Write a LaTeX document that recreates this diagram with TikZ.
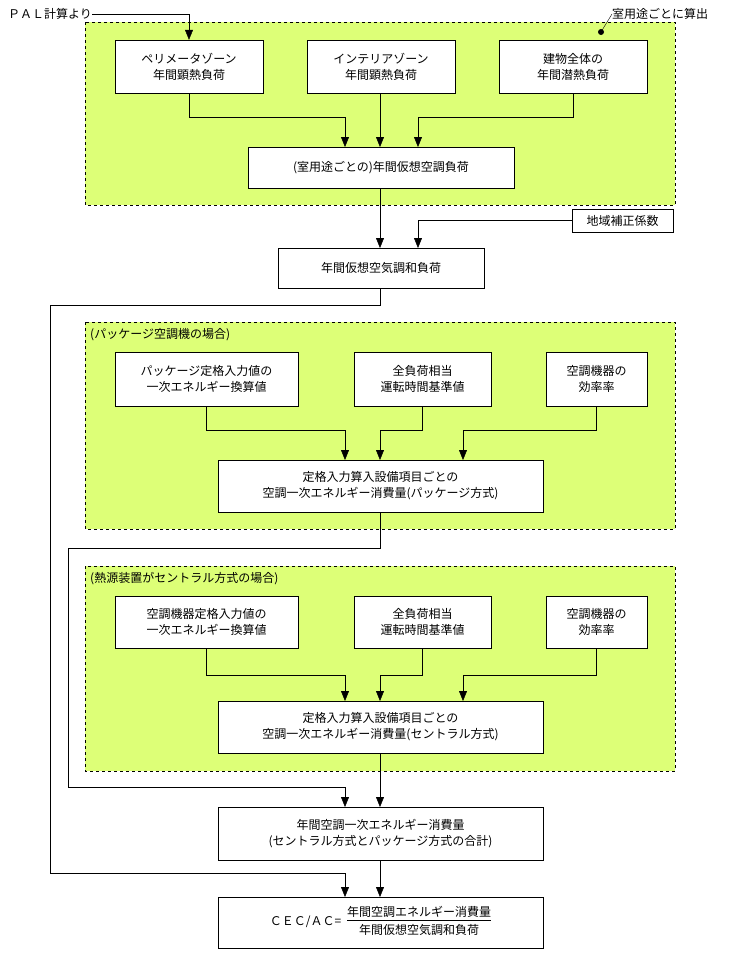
\documentclass[tikz,border=0pt]{standalone}
\usepackage{fontspec}
\setmainfont{Noto Sans CJK JP}
\usetikzlibrary{arrows.meta}
\definecolor{grp}{HTML}{DDFF77}
\tikzset{
  box/.style   = {draw, fill=white, align=center, inner sep=0pt, font=\fontsize{12}{16}\selectfont},
  group/.style = {draw, dashed, fill=grp},
  lbl/.style   = {anchor=west, inner sep=0pt, font=\fontsize{12}{16}\selectfont}
}
\newcommand{\bx}[6]{\node[box, minimum width=#4-#2, minimum height=#5-#3] (#1) at ({(#2+#4)/2},{(#3+#5)/2}) {#6};}

\begin{document}
\begin{tikzpicture}[x=1pt, y=-1pt, >={Triangle[length=10pt,width=8pt]}]
\useasboundingbox (0,0) rectangle (752,956);

% Groups
\draw[group] (85,22) rectangle (675,205);
\draw[group] (85,322) rectangle (675,529);
\draw[group] (85,566) rectangle (675,771);
\node[lbl] (pkg) at (90,335) {(パッケージ空調機の場合)};
\node[lbl] (cen) at (90,579) {(熱源装置がセントラル方式の場合)};

% Top part
\node[lbl] (pal) at (8,14) {ＰＡＬ計算より};
\node[lbl] (room) at (612,14) {室用途ごとに算出};
\coordinate (dot) at (601,32);
\bx{zp}{115}{40}{263}{93}{ペリメータゾーン\\年間顕熱負荷}
\bx{zi}{307}{40}{455}{93}{インテリアゾーン\\年間顕熱負荷}
\bx{zl}{499}{40}{647}{93}{建物全体の\\年間潜熱負荷}
\bx{roomload}{248}{147}{514}{188}{(室用途ごとの)年間仮想空調負荷}
\bx{reg}{572}{209}{673}{232}{地域補正係数}
\bx{hvac}{278}{248}{484}{288}{年間仮想空気調和負荷}

% Package
\bx{p1}{115}{352}{298}{406}{パッケージ定格入力値の\\一次エネルギー換算値}
\bx{p2}{354}{352}{491}{406}{全負荷相当\\運転時間基準値}
\bx{p3}{546}{352}{647}{406}{空調機器の\\効率率}
\bx{p4}{218}{460}{543}{512}{定格入力算入設備項目ごとの\\空調一次エネルギー消費量(パッケージ方式)}

% Central
\bx{c1}{115}{596}{298}{648}{空調機器定格入力値の\\一次エネルギー換算値}
\bx{c2}{354}{596}{491}{648}{全負荷相当\\運転時間基準値}
\bx{c3}{546}{596}{647}{648}{空調機器の\\効率率}
\bx{c4}{218}{701}{543}{753}{定格入力算入設備項目ごとの\\空調一次エネルギー消費量(セントラル方式)}

% Totals
\bx{tot}{218}{807}{543}{860}{年間空調一次エネルギー消費量\\(セントラル方式とパッケージ方式の合計)}
\bx{cec}{218}{897}{543}{948}{ＣＥＣ/ＡＣ=\enspace\begin{tabular}{@{}c@{}}年間空調エネルギー消費量\\[-1pt]\hline\rule{0pt}{14pt}年間仮想空気調和負荷\end{tabular}}

% Connections
\draw[->] (pal.east) -| (zp.north);
\draw (room.west) -- (dot);
\fill (dot) circle (3);
\draw[->] (zp.south) |- (345,117) -- (345,147);
\draw[->] (380,93) -- (380,147);
\draw[->] (zl.south) |- (418,117) -- (418,147);
\draw[->] (380,188) -- (380,248);
\draw[->] (reg.west) -| (418,248);
\draw[->] (380,288) |- (50,305) |- (345,873) -- (345,897);
\draw[->] (p1.south) |- (345,430) -- (345,460);
\draw[->] (p2.south) |- (380,430) -- (380,460);
\draw[->] (p3.south) |- (463,430) -- (463,460);
\draw[->] (380,512) |- (68,548) |- (345,787) -- (345,807);
\draw[->] (c1.south) |- (345,675) -- (345,701);
\draw[->] (c2.south) |- (380,675) -- (380,701);
\draw[->] (c3.south) |- (463,675) -- (463,701);
\draw[->] (380,753) -- (380,807);
\draw[->] (380,860) -- (380,897);

\end{tikzpicture}
\end{document}
